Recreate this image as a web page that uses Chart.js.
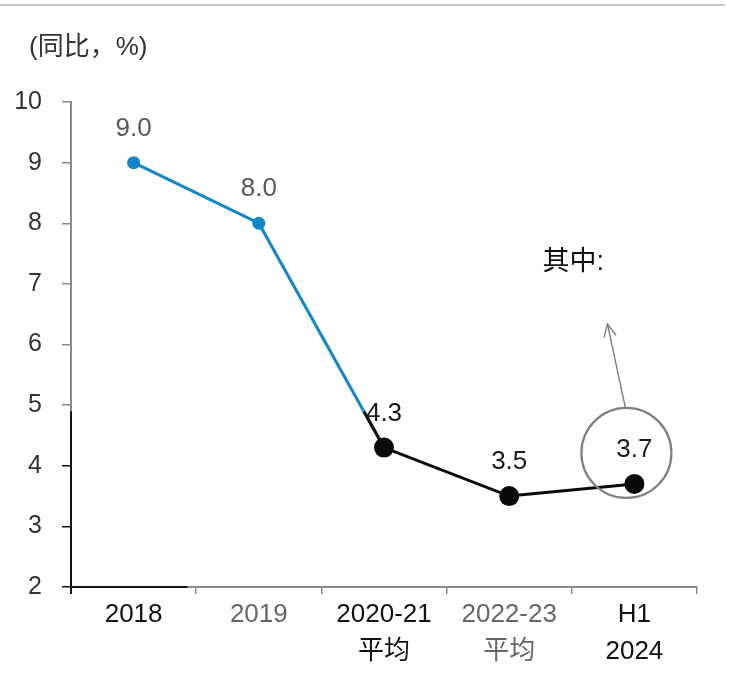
<!DOCTYPE html>
<html><head><meta charset="utf-8">
<script src="https://cdn.jsdelivr.net/npm/chart.js@4"></script>
<style>html,body{margin:0;padding:0;background:#fff}#wrap{width:733px;height:694px;position:relative}</style>
</head><body><div id="wrap"><canvas id="c"></canvas></div>
<script>
const categories = [['2018'], ['2019'], ['2020-21', '平均'], ['2022-23', '平均'], ['H1', '2024']];
const categoryColors = ['#111111', '#666666', '#111111', '#666666', '#111111'];
const seriesBlue = [9.0, 8.0, 4.3, null, null];
const seriesBlack = [null, null, 4.3, 3.5, 3.7];
const valueLabels = ['9.0', '8.0', '4.3', '3.5', '3.7'];
const labelColors = ['#595959', '#595959', '#1a1a1a', '#1a1a1a', '#1a1a1a'];
const yMin = 2, yMax = 10, yStep = 1;
const unitLabel = '(同比，%)';
const noteLabel = '其中:';

const FONT = "'Liberation Sans', Arial, 'Noto Sans CJK SC', sans-serif";
const AXIS_GRAY = '#8a8a8a';

const decor = {
  id: 'decor',
  afterDraw(chart) {
    const ctx = chart.ctx, ca = chart.chartArea;
    const xs = chart.scales.x, ys = chart.scales.y;
    ctx.save();
    // top rule
    ctx.strokeStyle = '#c8c8c8'; ctx.lineWidth = 2;
    ctx.beginPath(); ctx.moveTo(0, 5); ctx.lineTo(chart.width - 8, 5); ctx.stroke();
    // black parts of axes
    ctx.strokeStyle = '#111'; ctx.lineWidth = 2;
    ctx.beginPath(); ctx.moveTo(ca.left, ys.getPixelForValue(4.9)); ctx.lineTo(ca.left, ca.bottom + 7); ctx.stroke();
    const step = xs.getPixelForValue(1) - xs.getPixelForValue(0);
    ctx.beginPath(); ctx.moveTo(ca.left, ca.bottom); ctx.lineTo(xs.getPixelForValue(0) + 0.43 * step, ca.bottom); ctx.stroke();
    // black short segment over blue line near 4.3
    const m0 = chart.getDatasetMeta(0).data;
    const m1 = chart.getDatasetMeta(1).data;
    const p1 = m0[1], p2 = m0[2];
    const dx = p1.x - p2.x, dy = p1.y - p2.y, L = Math.hypot(dx, dy);
    ctx.lineWidth = 3;
    ctx.beginPath(); ctx.moveTo(p2.x, p2.y); ctx.lineTo(p2.x + dx / L * 41, p2.y + dy / L * 41); ctx.stroke();
    // value labels
    ctx.font = '26px ' + FONT; ctx.textAlign = 'center'; ctx.textBaseline = 'middle';
    valueLabels.forEach((t, i) => {
      const el = (seriesBlack[i] !== null ? m1[i] : m0[i]);
      ctx.fillStyle = labelColors[i];
      ctx.fillText(t, el.x, el.y - 34);
    });
    // circle annotation
    const last = m1[4];
    const cx = last.x - 8, cy = last.y - 31, r = 45;
    ctx.strokeStyle = '#808080'; ctx.lineWidth = 2.2;
    ctx.beginPath(); ctx.arc(cx, cy, r, 0, Math.PI * 2); ctx.stroke();
    // arrow
    const ax0 = cx - 1, ay0 = cy - r, ax1 = cx - 19, ay1 = cy - r - 84;
    ctx.strokeStyle = '#777'; ctx.lineWidth = 1.3;
    ctx.beginPath(); ctx.moveTo(ax0, ay0); ctx.lineTo(ax1, ay1); ctx.stroke();
    const ang = Math.atan2(ay1 - ay0, ax1 - ax0);
    ctx.beginPath();
    ctx.moveTo(ax1 + 14 * Math.cos(ang + Math.PI - 0.45), ay1 + 14 * Math.sin(ang + Math.PI - 0.45));
    ctx.lineTo(ax1, ay1);
    ctx.lineTo(ax1 + 14 * Math.cos(ang + Math.PI + 0.45), ay1 + 14 * Math.sin(ang + Math.PI + 0.45));
    ctx.stroke();
    // note text
    ctx.fillStyle = '#111'; ctx.font = '27px ' + FONT; ctx.textAlign = 'left';
    ctx.fillText(noteLabel, last.x - 92, ys.getPixelForValue(7.36));
    // unit label
    ctx.fillStyle = '#333'; ctx.font = '26px ' + FONT; ctx.textAlign = 'left';
    ctx.fillText(unitLabel, 29, ca.top - 54);
    ctx.restore();
  }
};

new Chart(document.getElementById('c'), {
  type: 'line',
  data: {
    labels: categories,
    datasets: [
      { data: seriesBlue, borderColor: '#1186c8', backgroundColor: '#1186c8', borderWidth: 3, order: 2,
        pointRadius: 6.5, pointHoverRadius: 6.5, pointBorderWidth: 0, tension: 0, spanGaps: false },
      { data: seriesBlack, borderColor: '#0a0a0a', backgroundColor: '#0a0a0a', borderWidth: 3, order: 1,
        pointRadius: 10, pointHoverRadius: 10, pointBorderWidth: 0, tension: 0 }
    ]
  },
  options: {
    responsive: true, maintainAspectRatio: false, animation: false,
    layout: { padding: { top: 102, right: 36, left: 0, bottom: 0 } },
    plugins: { legend: { display: false }, tooltip: { enabled: false } },
    scales: {
      x: {
        type: 'category', offset: true,
        grid: { display: true, drawOnChartArea: false, offset: true, tickLength: 7, color: AXIS_GRAY, lineWidth: 1.5 },
        border: { color: AXIS_GRAY, width: 2 },
        ticks: { color: c => categoryColors[c.index], font: { size: 26, family: FONT, lineHeight: 1.4 },
          padding: 3, maxRotation: 0, autoSkip: false },
        afterFit(s) { s.height = 107; }
      },
      y: {
        min: yMin, max: yMax,
        grid: { display: true, drawOnChartArea: false, tickLength: 9,
          color: c => (c.tick && c.tick.value <= 4 ? '#111' : AXIS_GRAY), lineWidth: 1.5 },
        border: { color: AXIS_GRAY, width: 2 },
        ticks: { stepSize: yStep, color: '#333', font: { size: 25, family: FONT }, padding: 20 },
        afterFit(s) { s.width = 71; }
      }
    }
  },
  plugins: [decor]
});
</script>
</body></html>
